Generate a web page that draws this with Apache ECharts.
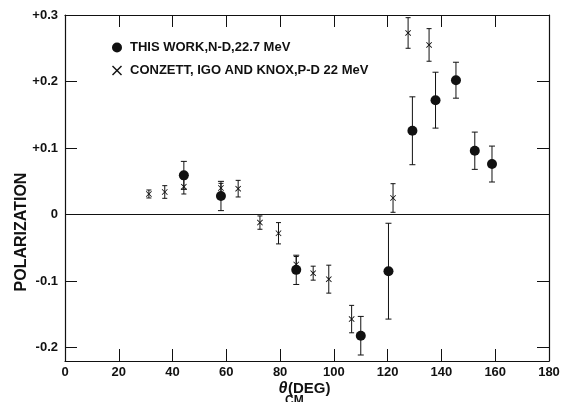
<!DOCTYPE html>
<html>
<head>
<meta charset="utf-8">
<title>Polarization vs angle</title>
<script src="https://cdn.jsdelivr.net/npm/echarts@6/dist/echarts.min.js"></script>
<style>
  html, body { margin: 0; padding: 0; background: #fff; }
  #chart { width: 564px; height: 402px; }
</style>
</head>
<body>
<div id="chart"></div>
<script>
// N-D, this work (filled circles)
var ndAngle = [44.2, 58, 86, 110, 120.3, 129.2, 137.8, 145.4, 152.4, 158.8];
var ndValue = [0.059, 0.028, -0.083, -0.182, -0.085, 0.126, 0.172, 0.202, 0.096, 0.076];
var ndError = [0.021, 0.022, 0.022, 0.029, 0.072, 0.051, 0.042, 0.027, 0.028, 0.027];

// P-D, Conzett, Igo and Knox (crosses)
var pdAngle = [31.2, 37.1, 44.2, 58, 64.4, 72.5, 79.4, 86, 92.3, 98.1, 106.6, 122, 127.6, 135.4];
var pdValue = [0.031, 0.034, 0.042, 0.040, 0.039, -0.012, -0.028, -0.075, -0.088, -0.097, -0.157, 0.025, 0.273, 0.255];
var pdError = [0.006, 0.0095, 0.011, 0.007, 0.0125, 0.01, 0.016, 0.012, 0.0105, 0.021, 0.0206, 0.0215, 0.023, 0.0245];

var yTicks = [-0.2, -0.1, 0, 0.1, 0.2, 0.3];
var ndName = 'THIS WORK,N-D,22.7 MeV';
var pdName = 'CONZETT, IGO AND KNOX,P-D 22 MeV';

var ink = '#111';
var font = '"Liberation Sans", Arial, sans-serif';
var crossPath = 'path://M0,1L1,0L5,4L9,0L10,1L6,5L10,9L9,10L5,6L1,10L0,9L4,5Z';

function points(xs, ys) {
  return xs.map(function (x, i) { return [x, ys[i]]; });
}
function bars(xs, ys, es) {
  return xs.map(function (x, i) { return [x, ys[i] - es[i], ys[i] + es[i]]; });
}

// vertical error bar with short caps
function errorBar(capHalf) {
  return function (params, api) {
    var x = api.value(0);
    var top = api.coord([x, api.value(2)]);
    var bot = api.coord([x, api.value(1)]);
    var st = { stroke: ink, lineWidth: 1 };
    return {
      type: 'group',
      children: [
        { type: 'line', shape: { x1: top[0], y1: top[1], x2: bot[0], y2: bot[1] }, style: st },
        { type: 'line', shape: { x1: top[0] - capHalf, y1: top[1], x2: top[0] + capHalf, y2: top[1] }, style: st },
        { type: 'line', shape: { x1: bot[0] - capHalf, y1: bot[1], x2: bot[0] + capHalf, y2: bot[1] }, style: st }
      ]
    };
  };
}

var tickStyle = { show: true, inside: true, length: 12, lineStyle: { color: ink, width: 1 } };
var lineStyle = { show: true, onZero: false, lineStyle: { color: ink, width: 1.2 } };

var chart = echarts.init(document.getElementById('chart'));
chart.setOption({
  animation: false,
  backgroundColor: '#fff',
  grid: { left: 65, right: 15, top: 15, bottom: 41 },
  legend: {
    orient: 'vertical',
    left: 112,
    top: 41,
    padding: 0,
    itemWidth: 10,
    itemHeight: 10,
    itemGap: 10,
    textStyle: { color: ink, fontFamily: font, fontWeight: 'bold', fontSize: 13, padding: [0, 0, 0, 3] },
    data: [
      { name: ndName, icon: 'circle' },
      { name: pdName, icon: crossPath }
    ]
  },
  xAxis: [
    {
      type: 'value', min: 0, max: 180, interval: 20,
      axisLine: lineStyle, axisTick: tickStyle, splitLine: { show: false },
      axisLabel: { color: ink, fontFamily: font, fontWeight: 'bold', fontSize: 13, margin: 5 }
    },
    {
      type: 'value', position: 'top', min: 0, max: 180, interval: 20,
      axisLine: lineStyle, axisTick: tickStyle, splitLine: { show: false },
      axisLabel: { show: false }
    }
  ],
  yAxis: [
    {
      type: 'value', min: -0.22, max: 0.3,
      axisLine: lineStyle, splitLine: { show: false },
      axisTick: Object.assign({ customValues: yTicks }, tickStyle),
      axisLabel: {
        customValues: yTicks, color: ink, fontFamily: font, fontWeight: 'bold', fontSize: 13, margin: 7,
        formatter: function (v) {
          var r = Math.round(v * 10) / 10;
          if (r === 0) return '0';
          return (r > 0 ? '+' : '-') + Math.abs(r).toFixed(1);
        }
      }
    },
    {
      type: 'value', position: 'right', min: -0.22, max: 0.3,
      axisLine: lineStyle, splitLine: { show: false },
      axisTick: Object.assign({ customValues: yTicks }, tickStyle),
      axisLabel: { show: false }
    }
  ],
  series: [
    {
      type: 'custom', name: 'ndErr', silent: true,
      renderItem: errorBar(3), data: bars(ndAngle, ndValue, ndError), z: 2
    },
    {
      type: 'custom', name: 'pdErr', silent: true,
      renderItem: errorBar(2.5), data: bars(pdAngle, pdValue, pdError), z: 2
    },
    {
      type: 'scatter', name: ndName, symbol: 'circle', symbolSize: 10,
      itemStyle: { color: ink, opacity: 1 }, data: points(ndAngle, ndValue), z: 4,
      markLine: {
        silent: true, symbol: 'none', label: { show: false },
        lineStyle: { color: ink, width: 1.2, type: 'solid' },
        data: [{ yAxis: 0 }]
      }
    },
    {
      type: 'scatter', name: pdName, symbol: crossPath, symbolSize: 6,
      itemStyle: { color: ink, opacity: 1 }, data: points(pdAngle, pdValue), z: 3
    }
  ],
  graphic: [
    {
      type: 'text', x: 22, y: 232, rotation: Math.PI / 2,
      style: { text: 'POLARIZATION', fill: ink, font: 'bold 16px ' + font, align: 'center', verticalAlign: 'middle' }
    },
    {
      type: 'text', x: 283, y: 389,
      style: { text: 'θ', fill: ink, font: 'italic bold 16px ' + font, align: 'center', verticalAlign: 'middle' }
    },
    {
      type: 'text', x: 288, y: 389,
      style: { text: '(DEG)', fill: ink, font: 'bold 15px ' + font, align: 'left', verticalAlign: 'middle' }
    },
    {
      type: 'text', x: 285, y: 395,
      style: { text: 'CM', fill: ink, font: 'bold 12px ' + font, align: 'left', verticalAlign: 'top' }
    }
  ]
});
</script>
</body>
</html>
